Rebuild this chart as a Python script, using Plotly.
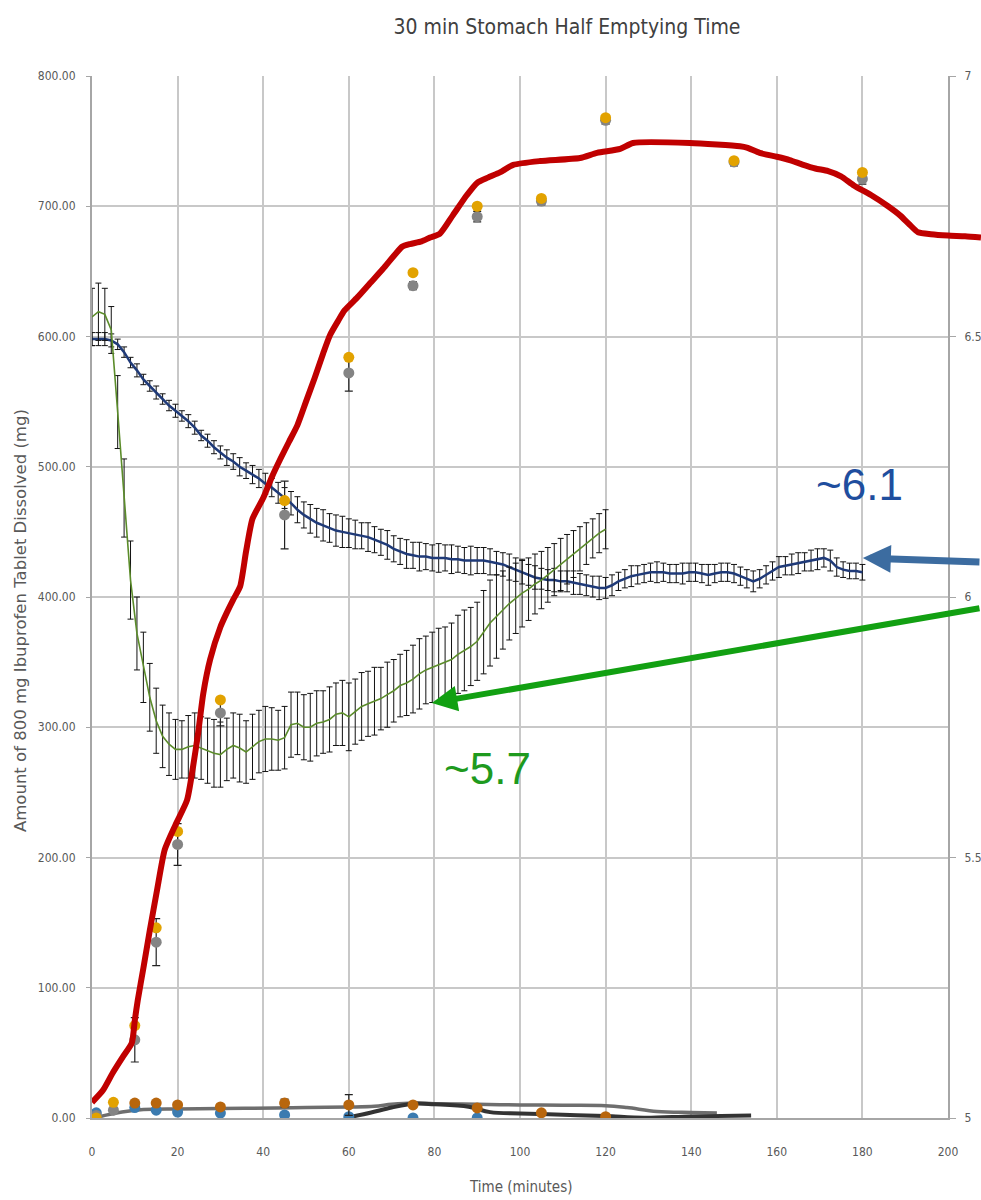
import plotly.graph_objects as go

# ---------------- data ----------------
# Time step of the two continuously sampled profiles (minutes)
STEP = 1.5

# Navy profile (sampled every 1.5 min, 0-180 min)
navy_vals = [598, 598, 598, 597, 594, 588, 580, 574, 567, 562, 557, 552, 547, 543, 539, 535,
             530, 524, 520, 515, 511, 507, 504, 500, 497, 494, 491, 487, 484, 480, 476, 472,
             467, 463, 460, 457, 455, 453, 451, 450, 449, 448, 447, 446, 444, 442, 440, 437,
             435, 433, 432, 431, 431, 430, 430, 430, 429, 429, 428, 428, 428, 428, 427, 426,
             425, 423, 421, 419, 417, 415, 414, 413, 413, 412, 412, 411, 410, 409, 408, 407,
             407, 409, 412, 414, 416, 417, 418, 419, 419, 419, 418, 418, 418, 419, 419, 418,
             417, 418, 419, 419, 418, 416, 414, 412, 414, 417, 420, 423, 424, 425, 426, 427,
             428, 429, 430, 428, 423, 421, 420, 420, 419]
navy_err = [5, 5, 5, 5,
            4, 4, 4, 5, 4, 4, 5, 4, 4, 5, 4, 5, 5, 4, 5, 5, 5,
            6, 6, 7, 6, 7, 7, 8, 7, 8, 8,
            9, 10, 10, 11, 11, 12, 11, 12, 12, 11,
            11, 10, 11, 10, 10, 11, 10, 10, 11, 10, 11, 10, 10, 11, 10, 11, 10, 10, 11, 10,
            10, 10, 9, 9, 10, 9, 9, 8, 9, 8, 8, 9, 8, 8, 9, 8, 8, 8, 9, 8,
            8, 7, 7, 8, 7, 7, 7, 8, 7, 7, 7, 8, 7, 7, 7, 8, 7, 7, 7, 7,
            7, 7, 8, 7, 7, 7, 8, 7, 8, 8, 7, 8, 8, 7, 8, 7, 6, 6, 6, 6]

# Green profile (sampled every 1.5 min, 0-120 min)
green_vals = [615, 619, 617, 605, 542, 476, 413, 372, 346, 323, 305, 293, 287, 283, 283, 285,
              286, 284, 282, 280, 279, 283, 286, 284, 281, 285, 289, 291, 291, 290, 292, 302,
              303, 300, 300, 303, 304, 306, 310, 311, 308, 312, 316, 318, 320, 322, 325, 328,
              332, 334, 337, 341, 344, 346, 348, 350, 352, 356, 359, 362, 366, 373, 380, 385,
              390, 395, 399, 403, 406, 410, 413, 417, 421, 425, 429, 433, 437, 441, 445, 449,
              452]
green_err = [22, 22, 20, 18,
             28, 30, 30, 28, 27, 26, 25, 24, 24, 23, 22,
             24, 25, 24, 25, 26, 25, 24, 25, 26, 24, 25, 24, 25, 24, 23, 24,
             25, 24, 25, 26, 25, 24, 25, 24, 25, 26, 25, 26, 25, 26, 24, 25, 24, 24,
             25, 26, 27, 26, 27, 28, 27, 28, 30, 31, 30, 30, 32, 33, 32, 30, 28, 27, 26, 24,
             23, 22, 21, 20, 20, 19, 18, 17, 16, 15, 15, 15]

# Discrete sampling times for the dot series
dot_t = [1, 5, 10, 15, 20, 30, 45, 60, 75, 90, 105, 120, 150, 180]
grey_vals = [2, 6, 60, 135, 210, 311, 463, 572, 639, 692, 704, 766, 734, 721]
grey_err = [1, 2, 17, 18, 16, 10, 26, 14, 3, 4, 3, 3, 3, 4]
gold_vals = [0, 12, 71, 146, 220, 321, 474, 584, 649, 700, 706, 768, 735, 726]

low_t = [1, 10, 15, 20, 30, 45, 60, 75, 90]
low_blue_vals = [4, 8, 6, 4.6, 3.8, 2.3, 1, 0, 0]
brown_t = [10, 15, 20, 30, 45, 60, 75, 90, 105, 120]
brown_vals = [11.5, 11.5, 10, 8.5, 11.5, 10, 10, 7.7, 4, 1]
brown_err = [0, 0, 0, 0, 3, 8, 0, 0, 0, 0]

# Low-level smooth lines
grey_line_t = [0.7, 3, 7, 12, 20, 30, 43, 50, 60, 66, 70, 75, 80, 90, 100, 110, 120, 125, 132, 140, 146]
grey_line_v = [0, 2, 4.6, 6.5, 7, 7.3, 7.7, 8, 8.4, 9, 10.5, 11.5, 11, 10.5, 10, 9.8, 9.5, 8, 5, 4.2, 3.8]
dark_line_t = [60.7, 65, 70, 75, 80, 88, 93, 100, 110, 120, 129, 140, 154]
dark_line_v = [1, 4, 8, 11, 10.5, 8.6, 4.5, 3.5, 2.5, 1.5, 0.2, 1.2, 2]

# Red profile
red_t = [0, 2.6, 4.9, 7.2, 9.3, 10, 10.7, 12, 13.5, 15.2, 17, 19.5, 22.2, 23.6, 24.8, 26, 27.6,
         30, 31.5, 33, 34.6, 36, 37.5, 40, 42, 44, 46, 48, 50, 52, 54, 55.6, 57.5, 59, 62, 65,
         68, 70.8, 72.5, 74.3, 77, 79, 81.3, 84.3, 87.6, 90, 92.5, 95.3, 98.4, 104.7, 114, 118,
         123.4, 126.4, 139.7, 151.4, 153, 156, 160, 163, 166, 169, 172, 175, 178, 182, 186,
         188.8, 191, 193, 196, 200, 204, 207.7]
red_v = [12, 21.5, 35, 47, 57.6, 75, 90.6, 115, 144, 175, 206, 225, 244, 269.5, 295.6, 326, 352,
         377, 388, 398, 408, 435, 460, 476, 492, 506, 519, 532, 550, 568, 587, 601, 612, 620, 630,
         641, 652, 663, 669, 671, 673, 676, 679, 693, 708.6, 718, 722, 726, 731.7, 734.7, 737,
         741, 744, 748.6, 748.6, 746, 745, 741, 738, 735.5, 732, 729, 727, 723, 716, 708.6, 700,
         693, 686, 680, 678.5, 677.5, 677, 676]

# Callouts: (label, text x, text y, arrow head x, head y, tail x, tail y, colours, width, head size)
callouts = [
    ("~6.1", 179.4, 486, 180.1, 430, 207.7, 426.9, "#1F4E9E", "#3C6CA0", 7, 0.8),
    ("~5.7", 92.5, 268.7, 79.4, 318.6, 207.7, 391.6, "#1E9A1E", "#12A012", 6, 0.85),
]

navy_t = [STEP * i for i in range(len(navy_vals))]
green_t = [STEP * i for i in range(len(green_vals))]

# ---------------- layout geometry ----------------
W, H = 981, 1200
ML, MR, MT, MB = 92, 0, 76, 82
PLOT_W = 856                       # width of the time axis in px
PAPER_W = W - ML - MR
X_DOM = PLOT_W / PAPER_W
X3_MAX = 200 * PAPER_W / PLOT_W    # same px-per-minute, extended to the page edge

TICK_FONT = dict(family="DejaVu Sans Condensed, Liberation Sans Narrow, Open Sans, sans-serif",
                 size=12, color="#595959")
GRID = "#C8C8C8"
AXLINE = "#A6A6A6"

fig = go.Figure()

# low level lines
fig.add_trace(go.Scatter(x=grey_line_t, y=grey_line_v, mode="lines",
                         line=dict(color="#6E6E6E", width=3.5, shape="spline")))
fig.add_trace(go.Scatter(x=dark_line_t, y=dark_line_v, mode="lines",
                         line=dict(color="#333333", width=4, shape="spline")))

# low level dots
fig.add_trace(go.Scatter(x=low_t, y=low_blue_vals, mode="markers",
                         marker=dict(color="#3B7BB0", size=11)))
fig.add_trace(go.Scatter(x=brown_t, y=brown_vals, mode="markers",
                         marker=dict(color="#B8660D", size=11),
                         error_y=dict(type="data", array=brown_err, color="#222222",
                                      thickness=1.2, width=4)))

# navy profile with error bars
fig.add_trace(go.Scatter(x=navy_t, y=navy_vals, mode="lines",
                         line=dict(color="#1F3A78", width=2.5),
                         error_y=dict(type="data", array=navy_err, color="#111111",
                                      thickness=1, width=3)))

# green profile with error bars
fig.add_trace(go.Scatter(x=green_t, y=green_vals, mode="lines",
                         line=dict(color="#5B8C2A", width=1.6),
                         error_y=dict(type="data", array=green_err, color="#111111",
                                      thickness=1, width=3)))

# grey and gold dot series
fig.add_trace(go.Scatter(x=dot_t, y=grey_vals, mode="markers",
                         marker=dict(color="#848484", size=11),
                         error_y=dict(type="data", array=grey_err, color="#222222",
                                      thickness=1.2, width=4)))
fig.add_trace(go.Scatter(x=dot_t, y=gold_vals, mode="markers",
                         marker=dict(color="#E2A200", size=11)))

# secondary (right) axis holder
fig.add_trace(go.Scatter(x=[], y=[], yaxis="y2", mode="lines", hoverinfo="skip"))

# red profile on the extended overlay axes
fig.add_trace(go.Scatter(x=red_t, y=red_v, mode="lines", xaxis="x3", yaxis="y3",
                         line=dict(color="#C00000", width=6, shape="spline", smoothing=0.6)))

annotations = []
for text, tx, ty, hx, hy, ax_, ay_, tcol, acol, aw, asz in callouts:
    annotations.append(dict(x=hx, y=hy, ax=ax_, ay=ay_, xref="x3", yref="y3",
                            axref="x3", ayref="y3", text="", showarrow=True,
                            arrowhead=2, arrowsize=asz, arrowwidth=aw, arrowcolor=acol))
    annotations.append(dict(x=tx, y=ty, xref="x3", yref="y3", text=text, showarrow=False,
                            font=dict(family="Liberation Sans, Arial, sans-serif",
                                      size=44, color=tcol)))

annotations.append(dict(text="Amount of 800 mg Ibuprofen Tablet Dissolved (mg)",
                        xref="paper", yref="paper", x=(20 - ML) / PAPER_W,
                        y=(H - MB - 621) / (H - MT - MB), textangle=-90, showarrow=False,
                        xanchor="center", yanchor="middle",
                        font=dict(family="DejaVu Sans, Verdana, sans-serif", size=16.5,
                                  color="#595959")))
annotations.append(dict(text="Time (minutes)", xref="paper", yref="paper",
                        x=(520 - ML) / PAPER_W, y=-(1187 - (H - MB)) / (H - MT - MB),
                        showarrow=False, xanchor="center", yanchor="middle",
                        font=dict(family=TICK_FONT["family"], size=15, color="#595959")))

fig.update_layout(
    width=W, height=H,
    margin=dict(l=ML, r=MR, t=MT, b=MB, pad=0, autoexpand=False),
    paper_bgcolor="white", plot_bgcolor="rgba(0,0,0,0)",
    showlegend=False,
    title=dict(text="30 min Stomach Half Emptying Time", x=567 / W, xanchor="center",
               y=1 - 27 / H, yanchor="middle", xref="container", yref="container",
               font=dict(family=TICK_FONT["family"], size=21, color="#404040")),
    xaxis=dict(domain=[0, X_DOM], range=[0, 200], tick0=0, dtick=20, showgrid=True,
               gridcolor=GRID, gridwidth=1.5, zeroline=False, showline=True,
               linecolor=AXLINE, linewidth=2, ticks="", tickfont=TICK_FONT,
               ticklabelstandoff=22),
    yaxis=dict(range=[0, 800], tick0=0, dtick=100, tickformat=".2f", showgrid=True,
               gridcolor=GRID, gridwidth=1.5, zeroline=False, showline=True,
               linecolor=AXLINE, linewidth=2, ticks="outside", ticklen=4,
               tickcolor=AXLINE, tickfont=TICK_FONT, ticklabelstandoff=8),
    yaxis2=dict(overlaying="y", side="right", anchor="x", range=[5, 7],
                tickvals=[5, 5.5, 6, 6.5, 7], ticktext=["5", "5.5", "6", "6.5", "7"],
                showgrid=False, zeroline=False, showline=True, linecolor=AXLINE,
                linewidth=2, ticks="outside", ticklen=6, tickcolor=AXLINE,
                tickfont=TICK_FONT, ticklabelstandoff=6),
    xaxis3=dict(domain=[0, 1], anchor="y3", range=[0, X3_MAX], visible=False),
    yaxis3=dict(domain=[0, 1], anchor="x3", range=[0, 800], visible=False),
    annotations=annotations,
)

fig.write_html("out.html")
